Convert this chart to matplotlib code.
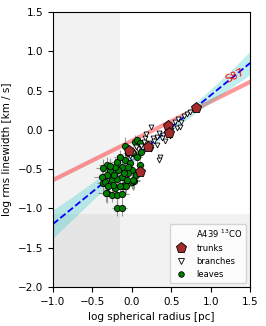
import matplotlib
matplotlib.use('Agg')
import matplotlib.pyplot as plt
from matplotlib.lines import Line2D

# leaves (green circles) with error bars
leaves_x = [-0.36, -0.32, -0.255, -0.19, -0.21, -0.11, -0.09, 0.00, 0.03,
            -0.086, 0.04, 0.02, -0.086, -0.02, 0.00, -0.045, 0.02, -0.13,
            -0.17, -0.21, -0.28, -0.32, -0.38, -0.34, -0.255, -0.19, -0.13,
            -0.065, -0.235, -0.30, -0.15, -0.19, -0.32, -0.045, 0.06, 0.10,
            0.20, -0.19, -0.13, -0.36, -0.28, -0.33, -0.07, 0.07, 0.10,
            -0.10, -0.22, -0.15, 0.12, 0.05, -0.12, -0.05]
leaves_y = [-0.68, -0.81, -0.83, -0.83, -0.74, -0.72, -0.70, -0.66, -0.65,
            -0.21, -0.15, -0.30, -0.38, -0.425, -0.51, -0.55, -0.64, -0.47,
            -0.51, -0.47, -0.53, -0.57, -0.60, -0.66, -0.64, -0.62, -0.60,
            -0.64, -0.70, -0.72, -0.72, -0.405, -0.45, -0.30, -0.13, -0.17,
            -0.20, -1.00, -1.00, -0.485, -0.46, -0.80, -0.72, -0.35, -0.45,
            -0.55, -0.58, -0.35, -0.28, -0.58, -0.82, -0.47]
leaves_xerr = [0.08, 0.10, 0.06, 0.09, 0.07, 0.08, 0.10, 0.06, 0.07,
               0.05, 0.06, 0.08, 0.07, 0.05, 0.09, 0.06, 0.08, 0.10,
               0.07, 0.09, 0.11, 0.08, 0.10, 0.07, 0.06, 0.08, 0.09,
               0.07, 0.06, 0.10, 0.08, 0.07, 0.09, 0.06, 0.05, 0.06,
               0.05, 0.06, 0.07, 0.09, 0.08, 0.10, 0.07, 0.06, 0.05,
               0.08, 0.09, 0.07, 0.05, 0.06, 0.08, 0.07]
leaves_yerr = [0.10, 0.12, 0.09, 0.11, 0.08, 0.10, 0.12, 0.09, 0.10,
               0.12, 0.08, 0.09, 0.10, 0.07, 0.11, 0.09, 0.12, 0.10,
               0.08, 0.11, 0.13, 0.10, 0.12, 0.09, 0.08, 0.10, 0.11,
               0.09, 0.08, 0.12, 0.10, 0.09, 0.11, 0.08, 0.07, 0.08,
               0.06, 0.10, 0.10, 0.11, 0.10, 0.12, 0.09, 0.08, 0.07,
               0.10, 0.11, 0.09, 0.07, 0.08, 0.10, 0.09]

# branches (white triangles)
branches_x = [0.25, 0.27, 0.32, 0.17, 0.15, 0.32, 0.57, 0.61, 0.55, 0.59,
              0.34, 0.36, 0.34, 0.66, 0.70, 0.74, 0.50, 0.45, 0.40, 0.38,
              0.28, 0.22, 0.12, 0.08, 0.05, 0.02, -0.02, 0.18, 0.25, 0.42,
              0.48, 0.62]
branches_y = [0.04, -0.11, -0.09, -0.11, -0.15, -0.19, 0.02, 0.04, 0.105,
              0.135, -0.04, -0.34, -0.38, 0.17, 0.20, 0.23, 0.00, -0.02,
              -0.06, -0.10, -0.14, -0.17, -0.20, -0.25, -0.22, -0.30, -0.33,
              -0.05, -0.25, -0.14, -0.08, 0.10]

# trunks (red pentagons)
trunks_x = [0.82, 0.46, 0.47, 0.21, -0.035, 0.11]
trunks_y = [0.275, 0.055, -0.035, -0.215, -0.275, -0.54]

# fit line and its confidence band
fit_x = [-1.0, 1.5]
fit_y = [-1.20, 0.85]
band_x = [-1.0, -0.75, -0.5, -0.25, 0.0, 0.25, 0.5, 0.75, 1.0, 1.25, 1.5]
band_lo = [-1.38, -1.14, -0.90, -0.66, -0.43, -0.21, -0.01, 0.17, 0.35,
           0.53, 0.70]
band_hi = [-1.02, -0.85, -0.67, -0.49, -0.33, -0.14, 0.07, 0.29, 0.52,
           0.75, 1.00]

# Solomon et al. 1987 relation
s87_x = [-1.0, 1.5]
s87_y = [-0.64, 0.61]

# completeness limits
rad_lim = -0.15
sig_lim = -1.07

plt.rcParams['font.size'] = 7.5

fig = plt.figure(figsize=(2.66, 3.26), dpi=100)
ax = fig.add_axes([0.199, 0.12, 0.741, 0.843])

ax.axvspan(-1.0, rad_lim, color='k', alpha=0.05, lw=0, zorder=0)
ax.axhspan(-2.0, sig_lim, color='k', alpha=0.05, lw=0, zorder=0)

ax.plot(s87_x, s87_y, color='red', alpha=0.4, lw=3, zorder=1)
ax.text(1.31, 0.69, 'S87', color='red', fontsize=7.5, rotation=26.6,
        ha='center', va='center', rotation_mode='anchor')

ax.fill_between(band_x, band_lo, band_hi, color='c', alpha=0.25, lw=0,
                zorder=1)
ax.plot(fit_x, fit_y, 'b--', lw=1.3, zorder=2)

ax.errorbar(leaves_x, leaves_y, xerr=leaves_xerr, yerr=leaves_yerr,
            fmt='none', ecolor='grey', elinewidth=0.8, alpha=0.8, zorder=3)
ax.plot(leaves_x, leaves_y, 'o', color='green', mec='k', mew=0.6, ms=4.5,
        zorder=4)
ax.plot(branches_x, branches_y, 'v', color='white', mec='k', mew=0.6, ms=3.5,
        zorder=5)
ax.plot(trunks_x, trunks_y, 'p', color='brown', mec='k', mew=0.6, ms=8,
        zorder=6)

ax.set_xlim(-1.0, 1.5)
ax.set_ylim(-2.0, 1.5)
ax.set_xlabel('log spherical radius [pc]')
ax.set_ylabel('log rms linewidth [km / s]')

# legend with the source name as the first, handle-less entry
handles = [
    Line2D([], [], ls='none', marker=None),
    Line2D([], [], ls='none', marker='p', color='brown', mec='k', mew=0.6, ms=8),
    Line2D([], [], ls='none', marker='v', color='white', mec='k', mew=0.6, ms=4),
    Line2D([], [], ls='none', marker='o', color='green', mec='k', mew=0.6, ms=4),
]
labels = ['A439 $^{13}$CO', 'trunks', 'branches', 'leaves']
ax.legend(handles, labels, loc='lower right', fontsize=6)

fig.savefig('out.png', dpi=100)
